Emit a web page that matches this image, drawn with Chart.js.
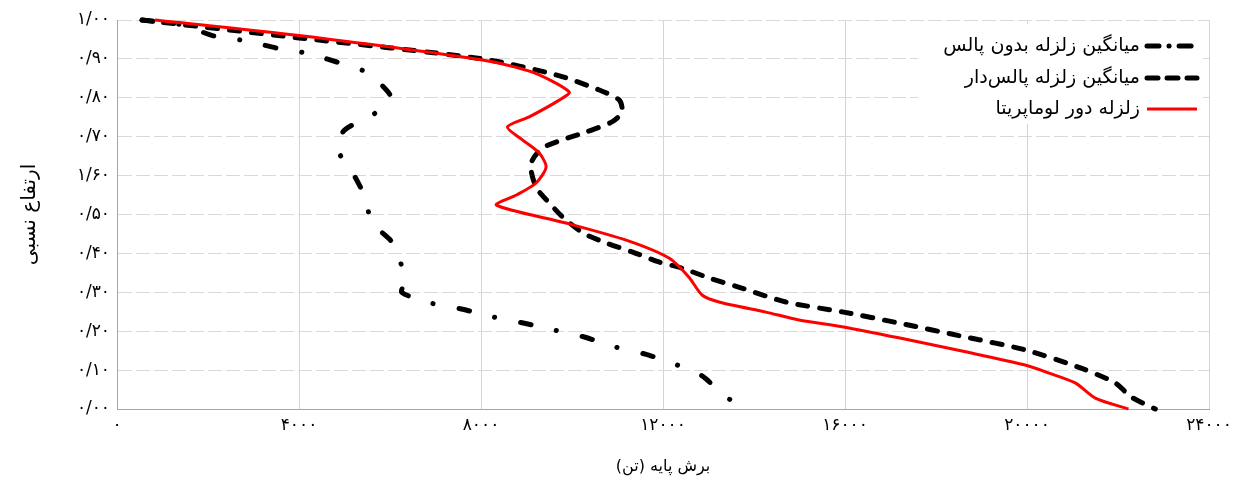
<!DOCTYPE html>
<html lang="fa">
<head>
<meta charset="UTF-8">
<title>برش پایه - ارتفاع نسبی</title>
<style>
    body {
        margin: 0;
        background: #fff;
    }
    #wrap {
        width: 1235px;
        height: 482px;
    }
</style>
<script src="https://cdn.jsdelivr.net/npm/chart.js"></script>
</head>
<body>
<div id="wrap"><canvas id="shearChart" width="1235" height="482"></canvas></div>
<script>
// tick labels (Persian digits, as printed on the original figure)
const xTickLabels = ['۰', '۴۰۰۰', '۸۰۰۰', '۱۲۰۰۰', '۱۶۰۰۰', '۲۰۰۰۰', '۲۴۰۰۰'];
const yTickLabels = ['۰/۰۰', '۰/۱۰', '۰/۲۰', '۰/۳۰', '۰/۴۰', '۰/۵۰', '۱/۶۰', '۰/۷۰', '۰/۸۰', '۰/۹۰', '۱/۰۰'];

const seriesNames = ['میانگین زلزله بدون پالس', 'میانگین زلزله پالس‌دار', 'زلزله دور لوماپریتا'];

// average of records without pulse (dash-dot)
const noPulseHeight = [1.00, 0.987, 0.96, 0.946, 0.928, 0.915, 0.892, 0.866, 0.825, 0.802, 0.761, 0.717, 0.671, 0.607, 0.545, 0.48, 0.427, 0.37, 0.33, 0.30, 0.272, 0.257, 0.237, 0.221, 0.203, 0.185, 0.16, 0.141, 0.118, 0.085, 0.031, 0.0];
const noPulseShear  = [550, 1450, 2100, 2850, 3500, 4150, 4830, 5480, 5880, 6010, 5680, 5000, 4830, 5180, 5450, 5600, 6060, 6250, 6330, 6260, 6910, 7570, 8250, 8930, 9610, 10270, 10930, 11610, 12200, 12860, 13380, 13890];

// average of pulse-like records (dashed)
const pulseHeight = [1.00, 0.954, 0.90, 0.859, 0.82, 0.794, 0.763, 0.738, 0.712, 0.692, 0.671, 0.64, 0.614, 0.568, 0.53, 0.494, 0.452, 0.427, 0.404, 0.378, 0.362, 0.337, 0.311, 0.275, 0.249, 0.221, 0.185, 0.152, 0.105, 0.067, 0.031, 0.0];
const pulseShear  = [550, 4000, 8030, 9650, 10600, 11040, 11100, 10880, 10310, 9790, 9350, 9130, 9100, 9220, 9500, 9790, 10250, 10750, 11320, 11910, 12420, 13010, 13730, 14700, 15970, 17180, 18650, 19960, 21190, 21940, 22290, 22820];

// Loma Prieta far-field record (solid red)
const lomaHeight = [1.00, 0.96, 0.897, 0.866, 0.815, 0.794, 0.751, 0.725, 0.692, 0.658, 0.622, 0.581, 0.55, 0.524, 0.478, 0.434, 0.388, 0.339, 0.293, 0.275, 0.249, 0.229, 0.211, 0.183, 0.147, 0.113, 0.093, 0.067, 0.028, 0.0];
const lomaShear  = [830, 4000, 8030, 9130, 9940, 9720, 9060, 8580, 8910, 9280, 9430, 9210, 8780, 8340, 9870, 11190, 12130, 12570, 12860, 13230, 14260, 14990, 15970, 17180, 18650, 19960, 20470, 21060, 21500, 22230];

function toPoints(shear, height) {
    return shear.map((x, i) => ({ x: x, y: height[i] }));
}

const fontFa = "'DejaVu Sans', sans-serif";

// legend drawn inside the plot, right-to-left, with line samples on the right
const insideLegend = {
    id: 'insideLegend',
    afterDatasetsDraw(chart) {
        const ctx = chart.ctx;
        const area = chart.chartArea;
        const boxRight = area.right - 6;
        const boxTop = area.top + 4;
        ctx.save();
        ctx.fillStyle = '#fff';
        ctx.fillRect(boxRight - 285, boxTop, 285, 100);

        const rowY = [boxTop + 22, boxTop + 54, boxTop + 85];
        chart.data.datasets.forEach((ds, i) => {
            const y = rowY[i];
            ctx.beginPath();
            ctx.strokeStyle = ds.borderColor;
            ctx.lineWidth = ds.borderWidth;
            ctx.lineCap = ds.borderCapStyle || 'butt';
            ctx.setLineDash(ds.legendDash || []);
            ctx.moveTo(boxRight - 56, y);
            ctx.lineTo(boxRight - 6, y);
            ctx.stroke();

            ctx.setLineDash([]);
            ctx.fillStyle = '#000';
            ctx.font = '19px ' + fontFa;
            ctx.direction = 'rtl';
            ctx.textAlign = 'right';
            ctx.textBaseline = 'middle';
            ctx.fillText(ds.label, boxRight - 63, y);
        });
        ctx.restore();
    }
};

const chart = new Chart(document.getElementById('shearChart'), {
    type: 'line',
    data: {
        datasets: [{
            label: seriesNames[0],
            data: toPoints(noPulseShear, noPulseHeight),
            borderColor: '#000',
            borderWidth: 5,
            borderDash: [11, 26, 0.1, 26],
            borderCapStyle: 'round',
            legendDash: [12, 10, 0.1, 10],
            order: 2
        }, {
            label: seriesNames[1],
            data: toPoints(pulseShear, pulseHeight),
            borderColor: '#000',
            borderWidth: 5,
            borderDash: [10, 12],
            borderCapStyle: 'round',
            legendDash: [11, 9],
            order: 1
        }, {
            label: seriesNames[2],
            data: toPoints(lomaShear, lomaHeight),
            borderColor: '#ff0000',
            borderWidth: 3,
            order: 0
        }]
    },
    options: {
        responsive: false,
        animation: false,
        layout: {
            padding: { left: 0, right: 26, top: 20, bottom: 0 }
        },
        elements: {
            point: { radius: 0 },
            line: { tension: 0.25, fill: false }
        },
        datasets: {
            line: { clip: false }
        },
        plugins: {
            legend: { display: false },
            tooltip: { enabled: false }
        },
        scales: {
            x: {
                type: 'linear',
                min: 0,
                max: 24000,
                afterFit: (scale) => {
                    scale.height = 73;
                    // let the outer labels hang into the page margin
                    scale.paddingLeft = 0;
                    scale.paddingRight = 0;
                },
                ticks: {
                    stepSize: 4000,
                    padding: 6,
                    color: '#000',
                    font: { family: fontFa, size: 17 },
                    callback: (v, i) => xTickLabels[i]
                },
                grid: {
                    color: '#d4d4d4',
                    lineWidth: 1,
                    drawTicks: false
                },
                border: { color: '#a6a6a6', width: 1 },
                title: {
                    display: true,
                    text: 'برش پایه (تن)',
                    color: '#000',
                    font: { family: fontFa, size: 16 },
                    padding: { top: 0, bottom: 6 }
                }
            },
            y: {
                type: 'linear',
                min: 0,
                max: 1,
                afterFit: (scale) => { scale.width = 117; },
                ticks: {
                    stepSize: 0.1,
                    padding: 7,
                    color: '#000',
                    font: { family: fontFa, size: 17 },
                    callback: (v, i) => yTickLabels[i]
                },
                grid: {
                    color: '#d9d9d9',
                    lineWidth: 1,
                    drawTicks: false
                },
                // in Chart.js v4 border.dash sets the dash of the grid lines
                border: { color: '#a6a6a6', width: 1, dash: [14, 4] },
                title: {
                    display: true,
                    text: 'ارتفاع نسبی',
                    color: '#000',
                    font: { family: fontFa, size: 20 },
                    padding: { top: 18, bottom: 0 }
                }
            }
        }
    },
    plugins: [insideLegend]
});
</script>
</body>
</html>
